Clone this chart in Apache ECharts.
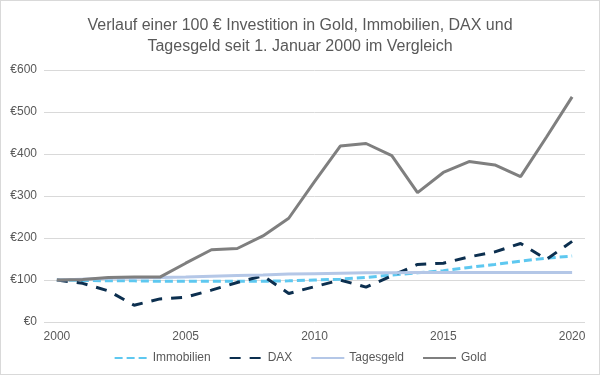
<!DOCTYPE html>
<html><head><meta charset="utf-8">
<script src="https://cdn.jsdelivr.net/npm/echarts@6/dist/echarts.min.js"></script>
<style>
html,body{margin:0;padding:0;background:#fff;}
#c{width:600px;height:375px;box-sizing:border-box;border:1px solid #d9d9d9;}
</style></head>
<body><div id="c"></div>
<script>
const years = ['2000','2001','2002','2003','2004','2005','2006','2007','2008','2009','2010','2011','2012','2013','2014','2015','2016','2017','2018','2019','2020'];
const immobilien = [100,99,98,98,97,97,97,97,97,98,100,102,106,112,117,122,130,137,145,152,157];
const dax = [100,92,74,40,55,59,76,94,110,68,84,100,83,110,137,140,155,167,187,149,192];
const tagesgeld = [100,102,104,105,106,107,109,111,112,114,115,116,117,117,118,118,118,118,118,118,118];
const gold = [100,101,106,107,107,140,172,175,205,247,334,419,425,396,308,356,382,374,346,440,536];
const yTicks = [0,100,200,300,400,500,600];

const chart = echarts.init(document.getElementById('c'));
const font = 'Liberation Sans, Arial, sans-serif';
chart.setOption({
  animation:false,
  title:{
    text:'Verlauf einer 100 € Investition in Gold, Immobilien, DAX und\nTagesgeld seit 1. Januar 2000 im Vergleich',
    left:'center', top:9,
    textStyle:{fontFamily:font,fontSize:16,fontWeight:'normal',color:'#595959',lineHeight:21}
  },
  grid:{left:43,right:14,top:69,bottom:52},
  legend:{
    bottom:5,left:'center',itemWidth:33,itemHeight:10,itemGap:18,
    itemStyle:{opacity:0},
    textStyle:{fontFamily:font,fontSize:12,color:'#595959'},
    data:['Immobilien','DAX','Tagesgeld','Gold']
  },
  xAxis:{
    type:'category',data:years,boundaryGap:true,
    axisLine:{show:false},axisTick:{show:false},
    axisLabel:{interval:4,fontFamily:font,fontSize:12,color:'#595959',margin:9}
  },
  yAxis:{
    type:'value',min:yTicks[0],max:yTicks[yTicks.length-1],interval:100,
    axisLine:{show:false},axisTick:{show:false},
    splitLine:{lineStyle:{color:'#d9d9d9',width:1}},
    axisLabel:{formatter:v=>'€'+v,fontFamily:font,fontSize:12,color:'#595959',margin:7}
  },
  series:[
    {name:'Immobilien',type:'line',data:immobilien,symbol:'none',lineStyle:{color:'#5ec8f0',width:3,type:[8,4]},itemStyle:{color:'#5ec8f0'}},
    {name:'DAX',type:'line',data:dax,symbol:'none',lineStyle:{color:'#0c2f4f',width:3,type:[11,9]},itemStyle:{color:'#0c2f4f'}},
    {name:'Tagesgeld',type:'line',data:tagesgeld,symbol:'none',lineStyle:{color:'#b4c7e7',width:3},itemStyle:{color:'#b4c7e7'}},
    {name:'Gold',type:'line',data:gold,symbol:'none',lineStyle:{color:'#7f7f7f',width:3},itemStyle:{color:'#7f7f7f'}}
  ]
});
</script></body></html>
